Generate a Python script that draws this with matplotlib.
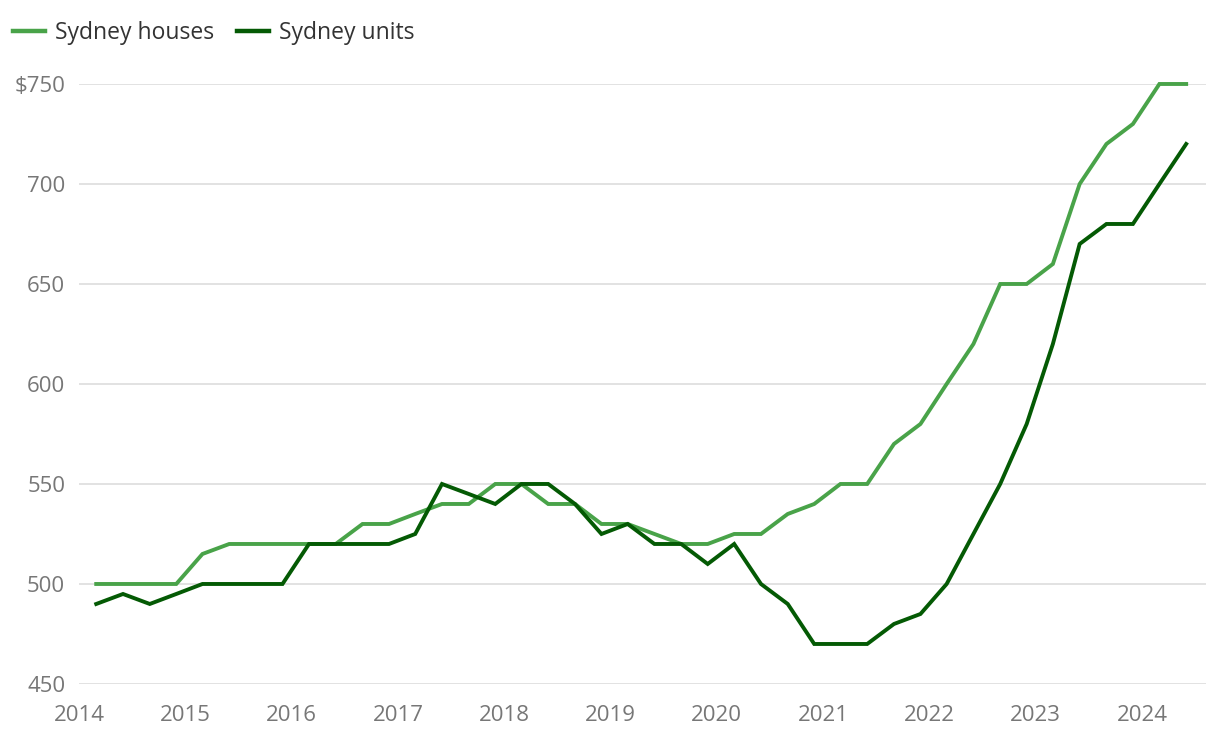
import pandas as pd
import matplotlib
matplotlib.use("Agg")
import matplotlib.pyplot as plt
import matplotlib.dates as mdates

# quarterly median weekly rents, Mar 2014 - Jun 2024
dates = pd.date_range("2014-03-01", periods=42, freq="3MS")
houses = [500, 500, 500, 500, 515, 520, 520, 520, 520, 520,
          530, 530, 535, 540, 540, 550, 550, 540, 540, 530,
          530, 525, 520, 520, 525, 525, 535, 540, 550, 550,
          570, 580, 600, 620, 650, 650, 660, 700, 720, 730,
          750, 750]
units = [490, 495, 490, 495, 500, 500, 500, 500, 520, 520,
         520, 520, 525, 550, 545, 540, 550, 550, 540, 525,
         530, 520, 520, 510, 520, 500, 490, 470, 470, 470,
         480, 485, 500, 525, 550, 580, 620, 670, 680, 680,
         700, 720]
yticks = [450, 500, 550, 600, 650, 700, 750]
ytick_labels = ["450", "500", "550", "600", "650", "700", "$750"]
years = list(range(2014, 2025))

plt.rcParams["font.family"] = ["Open Sans", "DejaVu Sans"]

fig = plt.figure(figsize=(12.2, 7.38), dpi=100)
ax = fig.add_axes([0.0648, 0.0732, 0.9237, 0.813])

l1, = ax.plot(dates, houses, color="#49a349", lw=2.8, clip_on=False,
              solid_joinstyle="miter", label="Sydney houses")
l2, = ax.plot(dates, units, color="#045a04", lw=2.8, clip_on=False,
              solid_joinstyle="miter", label="Sydney units")

ax.set_ylim(450, 750)
ax.set_xlim(pd.Timestamp("2014-01-01"), pd.Timestamp("2024-08-08"))
ax.set_yticks(yticks)
ax.set_yticklabels(ytick_labels)
ax.set_xticks([pd.Timestamp(f"{y}-01-01") for y in years])
ax.xaxis.set_major_formatter(mdates.DateFormatter("%Y"))

ax.grid(axis="y", color="#e2e2e2", lw=1.4)
ax.set_axisbelow(True)
for s in ax.spines.values():
    s.set_visible(False)
ax.tick_params(length=0, labelsize=16, colors="#777777")
ax.tick_params(axis="y", pad=10)
ax.tick_params(axis="x", pad=15)

leg = fig.legend(handles=[l1, l2], loc="upper left", bbox_to_anchor=(0.0, 0.988),
                 ncol=2, frameon=False, fontsize=16.5, handlelength=1.4,
                 handletextpad=0.45, columnspacing=1.0, borderaxespad=0.2,
                 borderpad=0.35, labelcolor="#333333")
for h in leg.legend_handles:
    h.set_linewidth(3.2)

fig.savefig("out.png", dpi=100)
